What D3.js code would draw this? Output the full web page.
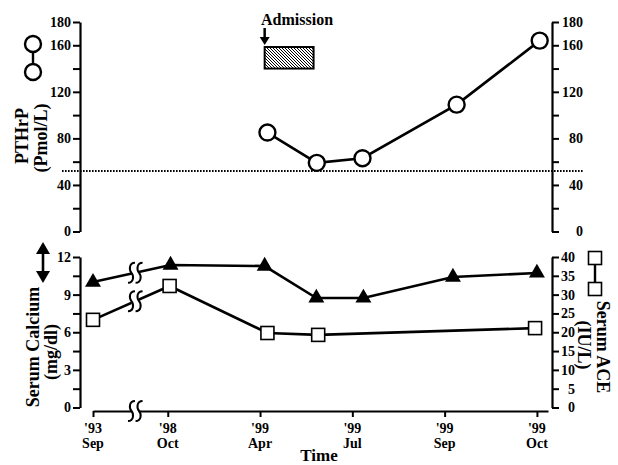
<!DOCTYPE html>
<html><head><meta charset="utf-8">
<script src="https://cdn.jsdelivr.net/npm/d3@7"></script>
<style>
body{margin:0;background:#fff}
svg text{font-family:"Liberation Serif","Times New Roman",serif;font-weight:bold;fill:#000}
</style>
</head><body>
<svg id="c" width="618" height="465"></svg>
<script>
// ---- data ----
const xTickPos   = [0.19, 1, 2, 3, 4, 5];
const xTickYear  = ["'93", "'98", "'99", "'99", "'99", "'99"];
const xTickMonth = ["Sep", "Oct", "Apr", "Jul", "Sep", "Oct"];
const xDomain    = [0.19, 5.12];

const pthrpX   = [2.08, 2.615, 3.11, 4.13, 5.03];
const pthrpVal = [85, 59, 63, 109, 164];

const calciumX   = [0.19, 1.03, 2.05, 2.61, 3.12, 4.09, 5.0];
const calciumVal = [10.0, 11.36, 11.28, 8.73, 8.73, 10.4, 10.73];

const aceX   = [0.19, 1.02, 2.08, 2.63, 4.98];
const aceVal = [23.3, 32.3, 19.8, 19.3, 21.1];

const pthrpNormal    = 52;
const admissionX     = [2.05, 2.58];
const admissionRange = [140, 158.5];
const breakX         = 0.648;

const pthTicks    = d3.range(0, 181, 20);
const pthLabels   = [0, 40, 80, 120, 160, 180];
const caTicks     = d3.range(0, 12.01, 1.5);
const caLabels    = [0, 3, 6, 9, 12];
const aceTicks    = d3.range(0, 41, 5);

// ---- layout ----
const svg = d3.select("#c");
const leftX = 80, rightX = 552;
const x    = d3.scaleLinear().domain(xDomain).range([93, 548]);
const yP   = d3.scaleLinear().domain([0, 180]).range([231.5, 22]);
const yCa  = d3.scaleLinear().domain([0, 12]).range([407.5, 257]);
const yAce = d3.scaleLinear().domain([0, 40]).range([407.5, 257]);
const xAxisY = 411;

const defs = svg.append("defs");
const pat = defs.append("pattern").attr("id", "hatch").attr("patternUnits", "userSpaceOnUse")
  .attr("width", 3).attr("height", 3);
pat.append("rect").attr("width", 3).attr("height", 3).attr("fill", "#fff");
pat.append("path").attr("d", "M-1,-1 L4,4 M-1,2 L1,4 M2,-1 L4,1").attr("stroke", "#000").attr("stroke-width", 1);

function styleAxis(g) {
  g.attr("font-family", null).attr("font-size", null);
  g.select(".domain").attr("stroke-width", 2.2);
  g.selectAll(".tick line").attr("stroke-width", 2);
  g.selectAll(".tick text").style("font-size", "14px");
}
function rightAlign(endX) {
  return g => g.selectAll(".tick text").attr("text-anchor", "end").attr("x", endX);
}

// top axes
svg.append("g").attr("transform", `translate(${leftX},0)`)
  .call(d3.axisLeft(yP).tickValues(pthTicks).tickFormat(d => pthLabels.includes(d) ? d : "")
    .tickSize(7).tickSizeOuter(0).tickPadding(2)).call(styleAxis);
svg.append("g").attr("transform", `translate(${rightX},0)`)
  .call(d3.axisRight(yP).tickValues(pthTicks).tickFormat(d => pthLabels.includes(d) ? d : "")
    .tickSize(7).tickSizeOuter(0).tickPadding(4)).call(styleAxis).call(rightAlign(31));

// bottom axes
svg.append("g").attr("transform", `translate(${leftX},0)`)
  .call(d3.axisLeft(yCa).tickValues(caTicks).tickFormat(d => caLabels.includes(d) ? d : "")
    .tickSize(7).tickSizeOuter(0).tickPadding(2)).call(styleAxis);
svg.append("g").attr("transform", `translate(${rightX},0)`)
  .call(d3.axisRight(yAce).tickValues(aceTicks).tickSize(7).tickSizeOuter(0).tickPadding(2))
  .call(styleAxis).call(rightAlign(23));

// x axis
svg.append("g").attr("transform", `translate(0,${xAxisY})`)
  .call(d3.axisBottom(x).tickValues(xTickPos).tickFormat("").tickSize(6).tickSizeOuter(0)).call(styleAxis);
xTickPos.forEach((p, i) => {
  svg.append("text").attr("x", x(p)).attr("y", 433).attr("text-anchor", "middle")
    .style("font-size", "14px").text(xTickYear[i]);
  svg.append("text").attr("x", x(p)).attr("y", 448).attr("text-anchor", "middle")
    .style("font-size", "14px").text(xTickMonth[i]);
});
svg.append("text").attr("x", 319).attr("y", 461).attr("text-anchor", "middle")
  .style("font-size", "17px").text("Time");

// dotted normal line
svg.append("line").attr("x1", leftX - 18).attr("x2", rightX + 31)
  .attr("y1", yP(pthrpNormal)).attr("y2", yP(pthrpNormal))
  .attr("stroke", "#000").attr("stroke-width", 1.8).attr("stroke-dasharray", "1.6,1.4");

// admission
svg.append("rect").attr("x", x(admissionX[0])).attr("y", yP(admissionRange[1]))
  .attr("width", x(admissionX[1]) - x(admissionX[0])).attr("height", yP(admissionRange[0]) - yP(admissionRange[1]))
  .attr("fill", "url(#hatch)").attr("stroke", "#000").attr("stroke-width", 2);
const ax = x(admissionX[0]);
svg.append("line").attr("x1", ax).attr("x2", ax).attr("y1", 28).attr("y2", 39).attr("stroke", "#000").attr("stroke-width", 2.5);
svg.append("path").attr("d", `M${ax-5},37 L${ax+5},37 L${ax},45 Z`).attr("fill", "#000");
svg.append("text").attr("x", 261).attr("y", 25).style("font-size", "16px").text("Admission");

const lineStyle = s => s.attr("fill", "none").attr("stroke", "#000").attr("stroke-width", 2.6);

// PTHrP series
const pData = pthrpX.map((d, i) => [d, pthrpVal[i]]);
svg.append("path").datum(pData).call(lineStyle)
  .attr("d", d3.line().x(d => x(d[0])).y(d => yP(d[1])));
svg.selectAll(".pc").data(pData).enter().append("circle")
  .attr("cx", d => x(d[0])).attr("cy", d => yP(d[1])).attr("r", 8)
  .attr("fill", "#fff").attr("stroke", "#000").attr("stroke-width", 2.4);

// Calcium series
const cData = calciumX.map((d, i) => [d, calciumVal[i]]);
svg.append("path").datum(cData).call(lineStyle)
  .attr("d", d3.line().x(d => x(d[0])).y(d => yCa(d[1])));
// ACE series
const aData = aceX.map((d, i) => [d, aceVal[i]]);
svg.append("path").datum(aData).call(lineStyle)
  .attr("d", d3.line().x(d => x(d[0])).y(d => yAce(d[1])));

// breaks
function interpY(data, yS) {
  const [a, b] = [data[0], data[1]];
  const t = (breakX - a[0]) / (b[0] - a[0]);
  return yS(a[1] + t * (b[1] - a[1]));
}
function drawBreak(cx, cy) {
  svg.append("rect").attr("x", cx - 3.5).attr("y", cy - 6).attr("width", 7).attr("height", 12).attr("fill", "#fff");
  [-3.8, 3.8].forEach(dx => {
    const c = cx + dx;
    svg.append("path")
      .attr("d", `M${c+3.5},${cy-10} C${c-2.5},${cy-10} ${c-2.5},${cy-3} ${c},${cy} C${c+2.5},${cy+3} ${c+2.5},${cy+10} ${c-3.5},${cy+10}`)
      .attr("fill", "none").attr("stroke", "#000").attr("stroke-width", 2);
  });
}
const bx = x(breakX);
drawBreak(bx, interpY(cData, yCa));
drawBreak(bx, interpY(aData, yAce));
drawBreak(bx, xAxisY);

// markers
const tri = d3.symbol().type(d3.symbolTriangle).size(110);
svg.selectAll(".tr").data(cData).enter().append("path")
  .attr("d", tri).attr("transform", d => `translate(${x(d[0])},${yCa(d[1])})`).attr("fill", "#000");
svg.selectAll(".sq").data(aData).enter().append("rect")
  .attr("x", d => x(d[0]) - 6.5).attr("y", d => yAce(d[1]) - 6.5).attr("width", 13).attr("height", 13)
  .attr("fill", "#fff").attr("stroke", "#000").attr("stroke-width", 1.6);

// legends
svg.append("line").attr("x1", 33).attr("x2", 33).attr("y1", 44).attr("y2", 72).attr("stroke", "#000").attr("stroke-width", 2.4);
[44, 72].forEach(cy => svg.append("circle").attr("cx", 33).attr("cy", cy).attr("r", 8)
  .attr("fill", "#fff").attr("stroke", "#000").attr("stroke-width", 2.4));

svg.append("line").attr("x1", 43).attr("x2", 43).attr("y1", 252).attr("y2", 273).attr("stroke", "#000").attr("stroke-width", 2.6);
svg.append("path").attr("d", "M43,242 L50,254 L36,254 Z").attr("fill", "#000");
svg.append("path").attr("d", "M43,283 L50,271 L36,271 Z").attr("fill", "#000");

svg.append("line").attr("x1", 595).attr("x2", 595).attr("y1", 258).attr("y2", 289).attr("stroke", "#000").attr("stroke-width", 2.4);
[258, 289].forEach(cy => svg.append("rect").attr("x", 588.5).attr("y", cy - 6.5).attr("width", 13).attr("height", 13)
  .attr("fill", "#fff").attr("stroke", "#000").attr("stroke-width", 1.6));

// axis titles
function vtext(cx, cy, rot, str) {
  svg.append("text").attr("transform", `translate(${cx},${cy}) rotate(${rot})`)
    .attr("text-anchor", "middle").attr("dy", "0.35em").style("font-size", "18px").text(str);
}
vtext(22, 136, -90, "PTHrP");
vtext(41, 138, -90, "(Pmol/L)");
vtext(33, 347, -90, "Serum Calcium");
vtext(51, 352, -90, "(mg/dl)");
vtext(603, 347, 90, "Serum ACE");
vtext(584, 345, 90, "(IU/L)");
</script>
</body></html>
